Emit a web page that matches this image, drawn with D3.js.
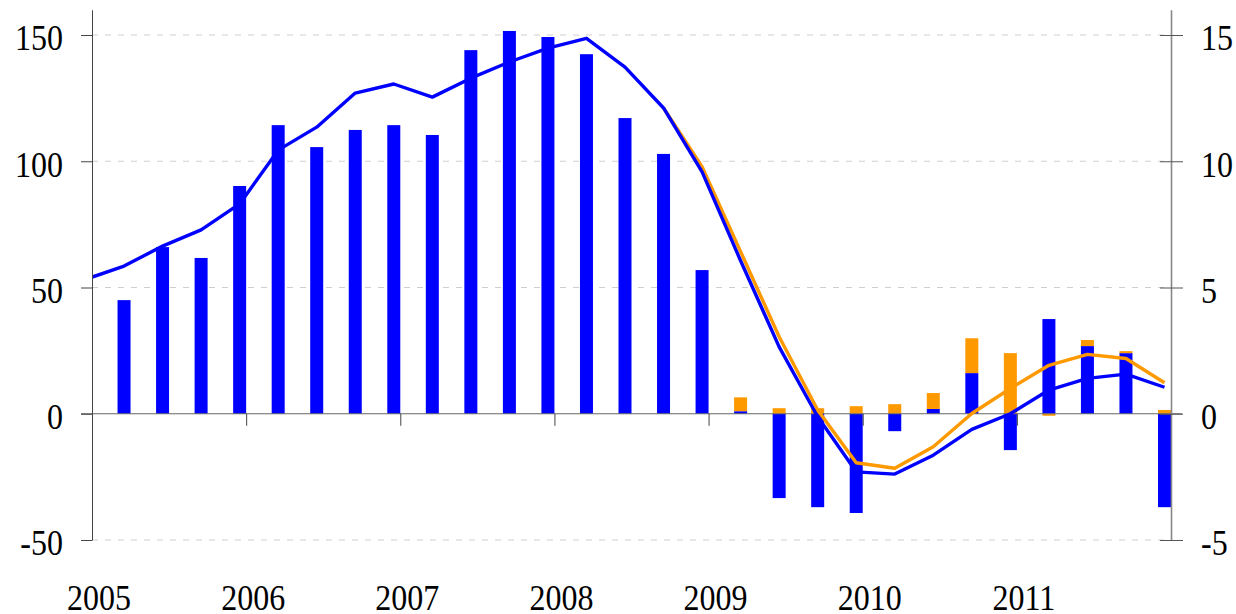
<!DOCTYPE html>
<html>
<head>
<meta charset="utf-8">
<script src="https://cdn.jsdelivr.net/npm/d3@7"></script>
<style>
  body { margin: 0; background: #fff; }
  svg { display: block; }
  text { font-family: "Liberation Serif", "Times New Roman", serif; font-size: 32px; fill: #000; }
</style>
</head>
<body>
<div id="chart"></div>
<script>
// quarterly data, 2005Q1 .. 2011Q4
var quarters = [
  "2005Q1","2005Q2","2005Q3","2005Q4","2006Q1","2006Q2","2006Q3","2006Q4",
  "2007Q1","2007Q2","2007Q3","2007Q4","2008Q1","2008Q2","2008Q3","2008Q4",
  "2009Q1","2009Q2","2009Q3","2009Q4","2010Q1","2010Q2","2010Q3","2010Q4",
  "2011Q1","2011Q2","2011Q3","2011Q4"];

// bars, left axis
var barBlue = [45.0, 66.0, 61.7, 90.2, 114.3, 105.6, 112.4, 114.3,
  110.4, 144.0, 151.6, 149.2, 142.4, 117.1, 102.9, 56.9,
  1.0, -33.4, -37.0, -39.3, -6.9, 1.9, 16.1, -14.4,
  37.5, 26.8, 24.0, -37.0];
var barOrange = [0, 0, 0, 0, 0, 0, 0, 0,
  0, 0, 0, 0, 0, 0, 0, 0,
  5.5, 2.2, 2.2, 3.0, 3.8, 6.3, 13.8, 24.0,
  -0.8, 2.4, 0.8, 1.5];

// lines, right axis (first point is 2004Q4, clipped at the left edge)
var lineQuarters = ["2004Q4"].concat(quarters);
var lineBlue = [5.32, 5.85, 6.64, 7.28, 8.31, 10.44, 11.35, 12.70, 13.06,
  12.54, 13.29, 13.93, 14.48, 14.87, 13.73, 12.11, 9.58,
  6.06, 2.65, -0.12, -2.30, -2.39, -1.64, -0.62, 0.0,
  0.94, 1.40, 1.57, 1.05];
var lineOrange = [null, null, null, null, null, null, null, null, null,
  null, null, null, null, null, null, 12.11, 9.78,
  6.42, 3.05, 0.15, -1.94, -2.16, -1.31, 0.01, 1.00,
  1.92, 2.35, 2.19, 1.23];

var years = [2005, 2006, 2007, 2008, 2009, 2010, 2011];
var leftTicks = [-50, 0, 50, 100, 150];
var rightTicks = [-5, 0, 5, 10, 15];

var blue = "#0000ff", orange = "#ff9900";
var W = 1236, H = 614;
var left = 92, right = 1171;
var barW = 13;
var sy = 1.15; // glyphs in the reference are taller than wide

// plain hyphen for negatives, like the reference
var fmt = function(d) { return String(d); };

// quarter end as decimal year
function qEnd(q) { return +q.slice(0, 4) + (+q.slice(5)) / 4; }

var x = d3.scaleLinear().domain([2005, 2012]).range([left, right]);
var yL = d3.scaleLinear().domain([-50, 160]).range([540, 9.75]);
var yR = d3.scaleLinear().domain([-5, 16]).range([540, 9.75]);

var svg = d3.select("#chart").append("svg")
  .attr("width", W)
  .attr("height", H);

svg.append("defs").append("clipPath")
  .attr("id", "plot-clip")
  .append("rect")
    .attr("x", left).attr("y", 0)
    .attr("width", right - left).attr("height", H);

// dashed grid lines
svg.append("g")
  .selectAll("line")
  .data(leftTicks.filter(function(d) { return d != 0; }))
  .enter()
  .append("line")
    .attr("x1", left).attr("x2", right)
    .attr("y1", function(d) { return yL(d); })
    .attr("y2", function(d) { return yL(d); })
    .style("stroke", "#cfcfcf")
    .style("stroke-width", 1)
    .style("stroke-dasharray", "6,7");

// stacked bars (diverging)
var table = quarters.map(function(q, i) {
  return {q: q, blue: barBlue[i], orange: barOrange[i]};
});
var series = d3.stack()
  .keys(["blue", "orange"])
  .offset(d3.stackOffsetDiverging)(table);

var colors = {blue: blue, orange: orange};

svg.append("g")
  .selectAll("g")
  .data(series)
  .enter()
  .append("g")
    .style("fill", function(s) { return colors[s.key]; })
  .selectAll("rect")
  .data(function(s) { return s; })
  .enter()
  .append("rect")
    .attr("x", function(d) { return x(qEnd(d.data.q)) - barW; })
    .attr("width", barW)
    .attr("y", function(d) { return yL(Math.max(d[0], d[1])); })
    .attr("height", function(d) { return Math.abs(yL(d[0]) - yL(d[1])); });

// zero line
svg.append("line")
  .attr("x1", 81).attr("x2", 1182)
  .attr("y1", yL(0)).attr("y2", yL(0))
  .style("stroke", "#666")
  .style("stroke-width", 1.2);

// year ticks below zero line
var xAxis = svg.append("g")
  .attr("transform", "translate(0," + yL(0) + ")")
  .call(d3.axisBottom(x).tickValues(years).tickSize(12).tickSizeOuter(0).tickFormat(fmt));
xAxis.select(".domain").remove();
xAxis.selectAll(".tick line").style("stroke", "#444");
xAxis.selectAll(".tick text")
  .attr("y", 0).attr("dy", null)
  .attr("transform", "translate(6.5," + (610 - yL(0)) + ") scale(1," + sy + ")")
  .style("font-size", "32px")
  .style("font-family", "'Liberation Serif', serif");

// lines
var lineGen = function(yScale) {
  return d3.line()
    .defined(function(d) { return d.v != null; })
    .x(function(d) { return x(qEnd(d.q)) - barW / 2; })
    .y(function(d) { return yScale(d.v); });
};

var plotLines = svg.append("g").attr("clip-path", "url(#plot-clip)");

plotLines.append("path")
  .datum(lineQuarters.map(function(q, i) { return {q: q, v: lineOrange[i]}; }))
  .attr("d", lineGen(yR))
  .style("fill", "none")
  .style("stroke", orange)
  .style("stroke-width", 3.4)
  .style("stroke-linejoin", "round");

plotLines.append("path")
  .datum(lineQuarters.map(function(q, i) { return {q: q, v: lineBlue[i]}; }))
  .attr("d", lineGen(yR))
  .style("fill", "none")
  .style("stroke", blue)
  .style("stroke-width", 3.4)
  .style("stroke-linejoin", "round");

// left axis
var axL = svg.append("g")
  .attr("transform", "translate(" + left + ",0)")
  .call(d3.axisLeft(yL).tickValues(leftTicks).tickFormat(fmt).tickSizeInner(11).tickSizeOuter(0).tickPadding(18));
axL.select(".domain").style("stroke", "#444");
axL.selectAll(".tick line").style("stroke", "#444");
axL.selectAll(".tick text")
  .attr("dy", null).attr("y", 13)
  .attr("transform", "scale(1," + sy + ")")
  .style("font-size", "32px")
  .style("font-family", "'Liberation Serif', serif");

// right axis
var axR = svg.append("g")
  .attr("transform", "translate(" + right + ",0)")
  .call(d3.axisRight(yR).tickValues(rightTicks).tickFormat(fmt).tickSizeInner(12).tickSizeOuter(0).tickPadding(18));
axR.select(".domain").style("stroke", "#888").style("stroke-width", 1.6);
axR.selectAll(".tick line").attr("x1", -11).style("stroke", "#555");
axR.selectAll(".tick text")
  .attr("dy", null).attr("y", 13)
  .attr("transform", "scale(1," + sy + ")")
  .style("font-size", "32px")
  .style("font-family", "'Liberation Serif', serif");
</script>
</body>
</html>
